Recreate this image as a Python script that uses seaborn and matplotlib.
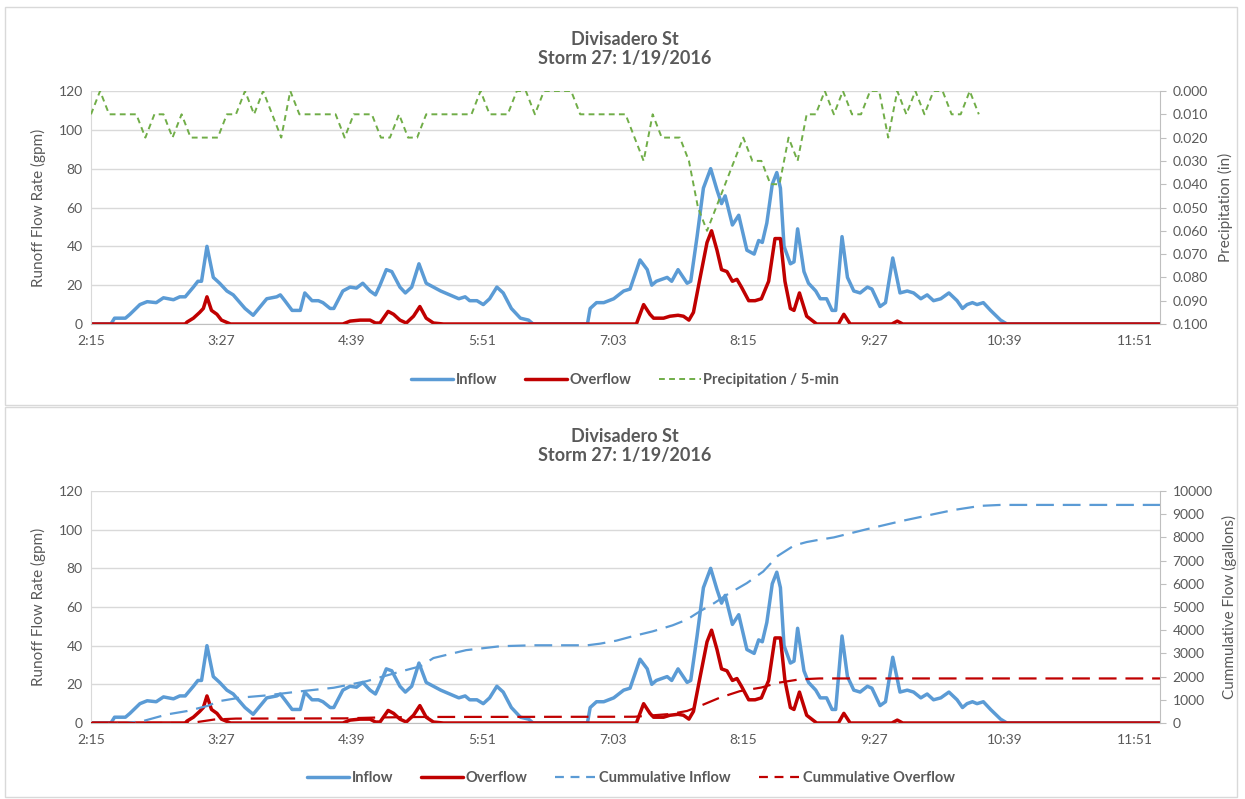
import numpy as np
import pandas as pd
import matplotlib
matplotlib.use("Agg")
import matplotlib.pyplot as plt
import seaborn as sns
from matplotlib.lines import Line2D
from matplotlib.patches import Rectangle

# ---------------- data (minutes after 2:15) ----------------
inflow_t = [0, 11, 13, 19, 21.5, 27, 31, 36, 40, 45.5, 49, 52, 56.5, 59, 61, 64, 67.5, 71, 75, 78.5,
            85, 89.5, 97, 102.5, 104.5, 107, 111, 115.5, 118, 122, 125.5, 128, 132, 134, 139, 143,
            146.5, 150, 154, 157, 159.5, 163, 166, 170.5, 173.5, 177, 181, 185, 189, 193, 198, 203,
            206.5, 209, 213, 216.5, 220, 224, 227.5, 232, 237, 241.5, 244, 274, 275.5, 279, 283,
            288.5, 294, 297.5, 303, 307, 309.5, 312, 318, 320.5, 324, 329, 331, 334.5, 338, 342,
            345.5, 348, 350, 354, 357.5, 362, 366, 368.5, 370.5, 373, 376, 378.5, 380.5, 382.5,
            386, 388, 390, 393.5, 396, 400, 402.5, 406, 409, 411, 414.5, 417.5, 421, 424.5, 428.5,
            431, 435.5, 438.5, 442.5, 446.5, 450.5, 454, 458, 461.5, 465, 469, 473.5, 478, 481,
            483.5, 486.5, 489, 492.5, 496.5, 502, 505.5, 590]
inflow_v = [0, 0, 3, 3, 5, 10, 11.5, 11, 13.5, 12.5, 14, 14, 19, 22, 22, 40, 24, 21, 17, 15,
            8, 4.5, 13, 14, 15, 12, 7, 7, 16, 12, 12, 11, 8, 8, 17, 19,
            18.5, 21, 17, 15, 20, 28, 27, 19, 16, 19, 31, 21, 19, 17, 15, 13,
            14, 12, 12, 10, 13, 19, 16, 8, 3, 2, 0, 0, 8, 11, 11,
            13, 17, 18, 33, 28, 20, 22, 24, 22, 28, 21, 22, 45, 70, 80,
            69, 62, 66, 51, 56, 38, 36, 43, 42, 52, 72, 78, 70, 40,
            31, 32, 49, 27, 21, 17, 13, 13, 7, 7, 45, 24, 17, 16, 19,
            18, 9, 11, 34, 16, 17, 16, 13, 15, 12, 13, 16, 12, 8,
            10, 11, 10, 11, 7, 2, 0, 0]

overflow_t = [0, 52, 53, 56.5, 60, 62, 64, 66.5, 69.5, 72, 77, 139, 143, 148.5, 154, 157, 159.5,
              164, 167, 170.5, 174, 178, 181.5, 185, 189, 194.5, 301, 305, 308.5, 310.5, 316,
              319.5, 324, 327, 330, 332.5, 336, 340, 342.5, 345.5, 348, 351, 354, 356.5, 359,
              363, 366.5, 370, 374, 377.5, 380.5, 383, 386, 388, 391, 395, 400.5, 412.5, 415.5,
              419, 442, 445, 448, 590]
overflow_v = [0, 0, 1, 3, 6, 8, 14, 7, 5, 2, 0, 0, 1.5, 2, 2, 0.5, 0.5,
              6.5, 5, 2, 0.5, 4, 9, 3, 0.5, 0, 0, 10, 5, 3, 3,
              4, 4.5, 4, 2, 6, 23, 42, 48, 38, 28, 27, 22, 23, 19,
              12, 12, 13, 22, 44, 44, 22, 8, 7, 16, 4, 0, 0, 5,
              0, 0, 1.5, 0, 0]

precip_start, precip_step = 0, 5
precip_v = [0.01, 0.00, 0.01, 0.01, 0.01, 0.01, 0.02, 0.01, 0.01, 0.02,
            0.01, 0.02, 0.02, 0.02, 0.02, 0.01, 0.01, 0.00, 0.01, 0.00,
            0.01, 0.02, 0.00, 0.01, 0.01, 0.01, 0.01, 0.01, 0.02, 0.01,
            0.01, 0.01, 0.02, 0.02, 0.01, 0.02, 0.02, 0.01, 0.01, 0.01,
            0.01, 0.01, 0.01, 0.00, 0.01, 0.01, 0.01, 0.00, 0.00, 0.01,
            0.00, 0.00, 0.00, 0.00, 0.01, 0.01, 0.01, 0.01, 0.01, 0.01,
            0.02, 0.03, 0.01, 0.02, 0.02, 0.02, 0.03, 0.05, 0.06, 0.05,
            0.04, 0.03, 0.02, 0.03, 0.03, 0.04, 0.04, 0.02, 0.03, 0.01,
            0.01, 0.00, 0.01, 0.00, 0.01, 0.01, 0.00, 0.00, 0.02, 0.00,
            0.01, 0.00, 0.01, 0.00, 0.00, 0.01, 0.01, 0.00, 0.01]

cum_in_t = [0, 20, 29, 42, 53, 64, 71, 82, 97, 115, 134, 152, 170, 182, 189, 207, 226, 244, 274,
            281, 290, 299, 310, 321, 329, 336, 344, 351, 362, 371, 379, 388, 395, 402, 410, 428,
            447, 465, 476, 491, 502, 590]
cum_in_v = [0, 0, 90, 370, 515, 730, 945, 1090, 1190, 1360, 1520, 1800, 2200, 2450, 2800, 3140,
            3310, 3350, 3350, 3420, 3550, 3740, 3950, 4210, 4460, 4810, 5170, 5530, 6030, 6530,
            7200, 7650, 7800, 7900, 8000, 8350, 8700, 9000, 9180, 9360, 9400, 9400]

cum_ov_t = [0, 55, 62, 68, 80, 140, 160, 182, 300, 310, 320, 329, 336, 347, 358, 370, 379, 391,
            402, 590]
cum_ov_v = [0, 0, 80, 150, 190, 200, 240, 260, 270, 330, 390, 520, 730, 1090, 1370, 1530, 1730,
            1880, 1920, 1920]

xtick_pos = [0, 72, 144, 216, 288, 360, 432, 504, 576]
xtick_lab = ["2:15", "3:27", "4:39", "5:51", "7:03", "8:15", "9:27", "10:39", "11:51"]
title = "Divisadero St\nStorm 27: 1/19/2016"

# ---------------- style ----------------
sns.set_style("white")
plt.rcParams['font.family'] = ['Lato', 'DejaVu Sans']
GRAY = "#595959"
GRID = "#D9D9D9"
AX = "#BFBFBF"
BLUE = "#5B9BD5"
RED = "#C00000"
GREEN = "#70AD47"

W, H = 1245, 799
fig = plt.figure(figsize=(W / 100, H / 100), dpi=100)
fig.patch.set_facecolor("white")


def box(l, t, r, b):
    return [l / W, 1 - b / H, (r - l) / W, (b - t) / H]


# chart frames
for (t, b) in [(7, 405), (407, 797)]:
    fig.patches.append(Rectangle((5 / W, 1 - b / H), 1232 / W, (b - t) / H, transform=fig.transFigure,
                                 fill=False, edgecolor="#D9D9D9", linewidth=1.0))

TICK_FS = 10
LAB_FS = 11


def base_axes(top, bottom):
    ax = fig.add_axes(box(91, top, 1160, bottom))
    ax.set_xlim(0, 590)
    ax.set_ylim(0, 120)
    ax.set_yticks(range(0, 121, 20))
    ax.yaxis.grid(True, color=GRID, linewidth=1.0)
    ax.xaxis.grid(False)
    ax.set_xticks(xtick_pos)
    ax.set_xticklabels(xtick_lab)
    ax.tick_params(axis="both", length=0, labelsize=TICK_FS, labelcolor=GRAY)
    ax.tick_params(axis="x", pad=8)
    ax.tick_params(axis="y", pad=6)
    for s in ["top", "right"]:
        ax.spines[s].set_visible(False)
    ax.spines["left"].set_color(GRID)
    ax.spines["bottom"].set_color(AX)
    return ax


def flow_lines(ax):
    df_in = pd.DataFrame({"t": inflow_t, "v": inflow_v})
    df_ov = pd.DataFrame({"t": overflow_t, "v": overflow_v})
    sns.lineplot(data=df_in, x="t", y="v", ax=ax, color=BLUE, linewidth=2.5, estimator=None,
                 sort=False, legend=False, solid_joinstyle="round", solid_capstyle="round")
    sns.lineplot(data=df_ov, x="t", y="v", ax=ax, color=RED, linewidth=2.5, estimator=None,
                 sort=False, legend=False, solid_joinstyle="round", solid_capstyle="round")
    ax.set_xlabel("")
    ax.set_ylabel("Runoff Flow Rate (gpm)", fontsize=LAB_FS, color=GRAY, labelpad=9)


def twin_style(tw):
    for s in ["top", "left", "bottom"]:
        tw.spines[s].set_visible(False)
    tw.spines["right"].set_color(AX)
    tw.tick_params(axis="y", length=4, color=AX, direction="out", labelsize=TICK_FS, labelcolor=GRAY, pad=5)
    tw.grid(False)


# ---------------- top chart ----------------
ax1 = base_axes(91, 324)
flow_lines(ax1)
tw1 = ax1.twinx()
df_p = pd.DataFrame({"t": [precip_start + precip_step * i for i in range(len(precip_v))], "v": precip_v})
sns.lineplot(data=df_p, x="t", y="v", ax=tw1, color=GREEN, linewidth=1.4, estimator=None,
             sort=False, legend=False)
tw1.lines[-1].set_dashes([3.0, 2.2])
tw1.set_ylim(0.1, 0.0)
tw1.set_yticks(np.arange(0, 0.1001, 0.01))
tw1.set_yticklabels([f"{v:.3f}" for v in np.arange(0, 0.1001, 0.01)])
tw1.set_xlim(0, 590)
tw1.set_xlabel("")
tw1.set_ylabel("Precipitation (in)", fontsize=LAB_FS, color=GRAY, labelpad=7)
twin_style(tw1)
fig.text(625 / W, 1 - 49 / H, title, ha="center", va="center", fontsize=13, fontweight="bold",
         color=GRAY, linespacing=1.15)

LEG_FS = 10.5
h1 = [Line2D([], [], color=BLUE, lw=2.5), Line2D([], [], color=RED, lw=2.5),
      Line2D([], [], color=GREEN, lw=1.4, dashes=[3.0, 2.2])]
fig.legend(h1, ["Inflow", "Overflow", "Precipitation / 5-min"], loc="center",
           bbox_to_anchor=(625 / W, 1 - 380 / H), ncol=3, frameon=False,
           prop={"size": LEG_FS, "weight": "bold"}, labelcolor=GRAY, handlelength=2.9,
           handletextpad=0.15, columnspacing=1.9)

# ---------------- bottom chart ----------------
ax2 = base_axes(491, 723)
flow_lines(ax2)
tw2 = ax2.twinx()
df_ci = pd.DataFrame({"t": cum_in_t, "v": cum_in_v})
df_co = pd.DataFrame({"t": cum_ov_t, "v": cum_ov_v})
sns.lineplot(data=df_ci, x="t", y="v", ax=tw2, color=BLUE, linewidth=1.6, estimator=None,
             sort=False, legend=False)
tw2.lines[-1].set_dashes([8, 4])
sns.lineplot(data=df_co, x="t", y="v", ax=tw2, color=RED, linewidth=1.6, estimator=None,
             sort=False, legend=False)
tw2.lines[-1].set_dashes([8, 4])
tw2.set_ylim(0, 10000)
tw2.set_yticks(range(0, 10001, 1000))
tw2.set_xlim(0, 590)
tw2.set_xlabel("")
tw2.set_ylabel("Cummulative Flow (gallons)", fontsize=LAB_FS, color=GRAY, labelpad=7)
twin_style(tw2)
fig.text(625 / W, 1 - 446 / H, title, ha="center", va="center", fontsize=13, fontweight="bold",
         color=GRAY, linespacing=1.15)

h2 = [Line2D([], [], color=BLUE, lw=2.5), Line2D([], [], color=RED, lw=2.5),
      Line2D([], [], color=BLUE, lw=1.6, dashes=[4, 3]), Line2D([], [], color=RED, lw=1.6, dashes=[4, 3])]
fig.legend(h2, ["Inflow", "Overflow", "Cummulative Inflow", "Cummulative Overflow"], loc="center",
           bbox_to_anchor=(631 / W, 1 - 778 / H), ncol=4, frameon=False,
           prop={"size": LEG_FS, "weight": "bold"}, labelcolor=GRAY, handlelength=2.9,
           handletextpad=0.15, columnspacing=1.9)

fig.savefig("out.png", dpi=100, facecolor="white")
